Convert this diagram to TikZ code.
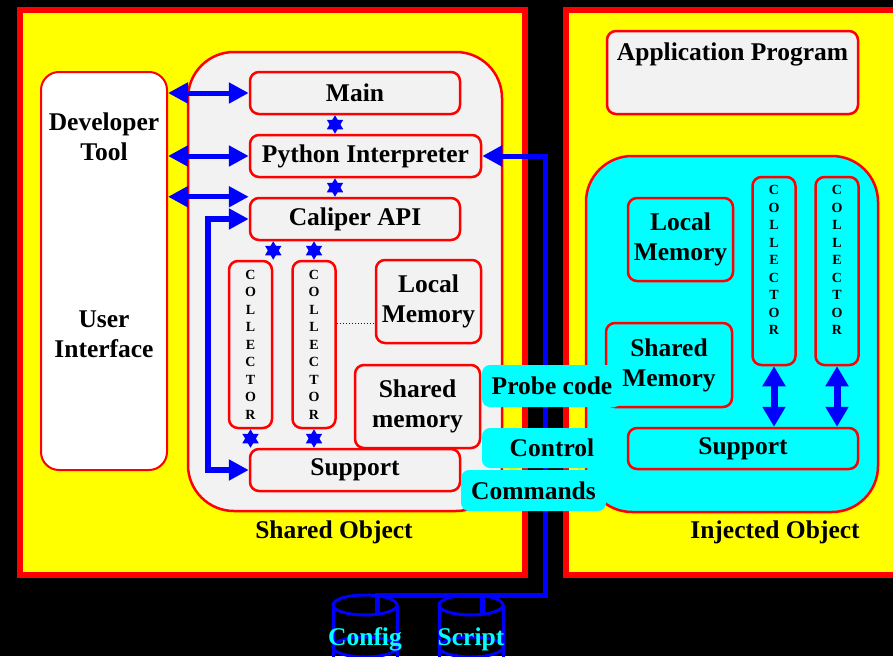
\documentclass[tikz,border=0pt]{standalone}
\usepackage{fontspec}
\setmainfont{Liberation Serif}
\usepackage{tikz}
\usetikzlibrary{arrows.meta}

\definecolor{boxgray}{RGB}{242,242,242}
\definecolor{pyellow}{RGB}{255,255,0}
\definecolor{pcyan}{RGB}{0,255,255}
\definecolor{pred}{RGB}{255,0,0}
\definecolor{pblue}{RGB}{0,0,255}
\newcommand{\lblfont}{\fontsize{25.5}{30}\selectfont\bfseries}
\newcommand{\collfont}{\fontsize{14}{17.5}\selectfont\bfseries}
\newcommand{\collword}{C\\O\\L\\L\\E\\C\\T\\O\\R}

\tikzset{
  panel/.style={draw=pred, line width=6pt, fill=pyellow},
  area/.style={draw=pred, line width=2.5pt, rounded corners=46pt, inner sep=0pt},
  box/.style={draw=pred, line width=2.5pt, fill=boxgray, rounded corners=9pt,
    inner sep=0pt, align=center, font=\lblfont},
  cbox/.style={box, fill=pcyan},
  coll/.style={box, font=\collfont, minimum width=43pt},
  tag/.style={fill=pcyan, rounded corners=8pt, inner sep=0pt, font=\lblfont},
  title/.style={font=\lblfont, inner sep=0pt, align=center},
  bigarrow/.style={draw=pblue, line width=5pt,
    {Triangle[length=20pt,width=20pt]}-{Triangle[length=20pt,width=20pt]}},
  fatarrow/.style={draw=pblue, line width=7pt,
    {Triangle[length=20pt,width=22pt]}-{Triangle[length=20pt,width=22pt]}},
  smallarrow/.style={draw=pblue, line width=1.5pt,
    {Triangle[length=14pt,width=16pt]}-{Triangle[length=14pt,width=16pt]}},
  feed/.style={draw=pblue, line width=5pt},
  canline/.style={draw=pblue, line width=3pt},
}

\begin{document}
\begin{tikzpicture}[x=1pt, y=-1pt]
\path[use as bounding box, fill=black] (0,0) rectangle (893,656);
\clip (0,0) rectangle (893,656);

% Panels
\draw[panel] (20,10) rectangle (525,575);
\draw[panel] (565.5,10) rectangle (905,575);

% Define nodes
% Developer tool
\node[box, fill=white, line width=2pt, rounded corners=18pt,
  minimum width=126pt, minimum height=398pt] (dev) at (104,271) {};
\node[title] (devtxt) at (104,137) {Developer\\Tool};
\node[title] (uitxt) at (104,334) {User\\Interface};

% Shared object
\node[area, fill=boxgray, minimum width=314pt, minimum height=459pt] (so) at (345,281.5) {};
\node[box, minimum width=210pt, minimum height=42pt] (main) at (355,93) {Main};
\node[box, minimum width=231pt, minimum height=42pt] (py) at (365.5,156) {Python Interpreter};
\node[box, minimum width=210pt, minimum height=42pt] (api) at (355,219) {Caliper API};
\node[box, minimum width=210pt, minimum height=42pt] (sup) at (355,470) {Support};
\node[coll, minimum height=167pt] (colA) at (250.5,344.5) {\collword};
\node[coll, minimum height=167pt] (colB) at (314,344.5) {\collword};
\node[box, minimum width=105pt, minimum height=83pt] (lmem) at (428.5,301.5) {Local\\Memory};
\node[box, minimum width=125pt, minimum height=83pt] (smem) at (417.5,406.5) {Shared\\memory};
\node[title] (sotxt) at (334,532) {Shared Object};

% Injected object
\node[box, minimum width=251pt, minimum height=83pt] (app) at (732.5,72.5) {};
\node[title] (apptxt) at (732.5,54) {Application Program};
\node[area, fill=pcyan, minimum width=292pt, minimum height=356pt] (io) at (732,334) {};
\node[cbox, minimum width=105pt, minimum height=83pt] (rlmem) at (680.5,239.5) {Local\\Memory};
\node[coll, fill=pcyan, minimum height=188pt] (rcolA) at (774,271) {\collword\\[4pt]\mbox{}};
\node[coll, fill=pcyan, minimum height=188pt] (rcolB) at (837,271) {\collword\\[4pt]\mbox{}};
\node[cbox, minimum width=126pt, minimum height=84pt] (rsmem) at (669,365) {Shared\\Memory};
\node[cbox, minimum width=230pt, minimum height=41pt] (rsup) at (743,448.5) {Support};
\node[title] (iotxt) at (775,532) {Injected Object};

% Helper coordinates
\coordinate (mid) at (335,0);
\coordinate (bend) at (208,0);
\coordinate (dot) at (0,323);
\coordinate (bus) at (545,595);
\coordinate (cfgtap) at (377,595);
\coordinate (cfgtop) at (377,614);
\coordinate (scrtap) at (482,595);
\coordinate (scrtop) at (482,614);

% Edges
\draw[bigarrow] (dev.east |- main.west) -- (main.west);
\draw[bigarrow] (dev.east |- py.west) -- (py.west);
\draw[bigarrow] (dev.east |- api.north west) -- (api.north west);
\draw[bigarrow, line width=6pt] (api.west) -- (api.west -| bend) |- (sup.west);
\draw[smallarrow] (main.south -| mid) -- (py.north -| mid);
\draw[smallarrow] (py.south -| mid) -- (api.north -| mid);
\draw[smallarrow] (api.south -| colA.east) -- (colA.north east);
\draw[smallarrow] (api.south -| colB) -- (colB.north);
\draw[smallarrow] (colA.south) -- (sup.north -| colA);
\draw[smallarrow] (colB.south) -- (sup.north -| colB);
\draw[pblue, dotted, line width=1pt] (colB.east |- dot) -- (lmem.west |- dot);
\draw[fatarrow] (rcolA.south) -- (rsup.north -| rcolA);
\draw[fatarrow] (rcolB.south) -- (rsup.north -| rcolB);

% Config and script feed
\draw[feed, {Triangle[length=20pt,width=20pt]}-] (py.east) -| (bus) -- (cfgtap) -- (cfgtop);
\draw[feed] (scrtap) -- (scrtop);

% Tags
\node[tag, minimum width=140pt, minimum height=42pt] (probe) at (552,386) {Probe code};
\node[tag, minimum width=140pt, minimum height=40pt] (ctrl) at (552,448) {Control};
\node[tag, minimum width=145pt, minimum height=41pt] (cmds) at (533.5,490.5) {Commands};

% Cans
\draw[canline] (365,605) ellipse (32 and 10);
\draw[canline] (333,605) -- (333,660) (397,605) -- (397,660);
\draw[canline] (365,647) ellipse (32 and 10);
\draw[canline] (471,605) ellipse (32 and 10);
\draw[canline] (439,605) -- (439,660) (503,605) -- (503,660);
\draw[canline] (471,647) ellipse (32 and 10);
\node[title, text=pcyan] (cfgtxt) at (365,639) {Config};
\node[title, text=pcyan] (scrtxt) at (471,639) {Script};
\end{tikzpicture}
\end{document}
